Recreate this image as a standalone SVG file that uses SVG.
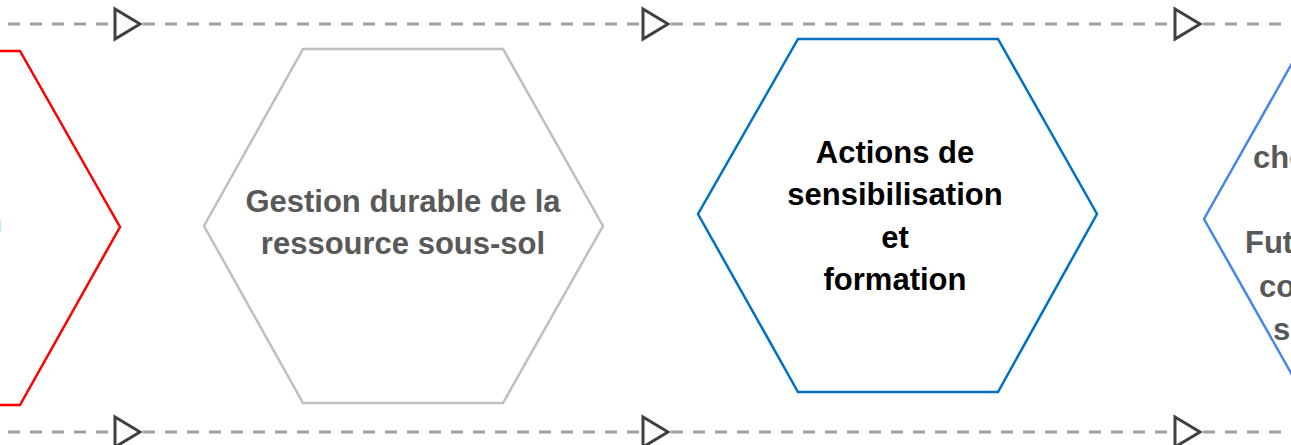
<svg xmlns="http://www.w3.org/2000/svg" width="1291" height="445" viewBox="0 0 1291 445">
<style>
.hex{fill:#fff;stroke-width:2.5;stroke-linejoin:miter}
.lbl{font-family:"Liberation Sans",Arial,sans-serif;font-weight:bold;font-size:31px;text-anchor:middle}
.gray{fill:#595959}
.blk{fill:#000}
.edge{fill:none;stroke:#A0A0A0;stroke-width:3;stroke-dasharray:12 10}
</style>
<defs>
<marker id="tri" markerUnits="userSpaceOnUse" markerWidth="30" markerHeight="34" refX="26" refY="16" orient="auto" overflow="visible">
<path d="M1,1 L26,16 L1,31 Z" fill="#fff" stroke="#404040" stroke-width="3" stroke-dasharray="none" stroke-linejoin="miter"/>
</marker>
</defs>
<rect width="1291" height="445" fill="#fff"/>
<g id="connectors">
<path class="edge" d="M8,24 L140,24" marker-end="url(#tri)"/>
<path class="edge" d="M143,24 L668,24" marker-end="url(#tri)"/>
<path class="edge" d="M671,24 L1200,24" marker-end="url(#tri)"/>
<path class="edge" d="M1203,24 L1291,24"/>
<path class="edge" d="M8,432 L140,432" marker-end="url(#tri)"/>
<path class="edge" d="M143,432 L668,432" marker-end="url(#tri)"/>
<path class="edge" d="M671,432 L1200,432" marker-end="url(#tri)"/>
<path class="edge" d="M1203,432 L1291,432"/>
</g>
<g id="node-red">
<polygon class="hex" stroke="#FF0000" points="-80,51 20,51 120,227 20,405 -80,405 -180,227"/>
<text class="lbl gray" x="2" y="232" style="text-anchor:end">n</text>
</g>
<g id="node-gestion">
<polygon class="hex" stroke="#BFBFBF" points="303,49 503,49 603,226 503,403 303,403 204,226"/>
<text class="lbl gray" x="403" y="212">Gestion durable de la</text>
<text class="lbl gray" x="403" y="254">ressource sous-sol</text>
</g>
<g id="node-actions">
<polygon class="hex" stroke="#0070C0" points="798,39 998,39 1097,214 998,392 798,392 698,214"/>
<text class="lbl blk" x="895" y="163">Actions de</text>
<text class="lbl blk" x="895" y="205">sensibilisation</text>
<text class="lbl blk" x="895" y="248">et</text>
<text class="lbl blk" x="895" y="290">formation</text>
</g>
<g id="node-right">
<polygon class="hex" stroke="#4A86E8" points="1304,42 1504,42 1604,219 1504,396 1304,396 1204,219"/>
<text class="lbl gray" x="1253" y="168" style="text-anchor:start">che</text>
<text class="lbl gray" x="1245" y="253" style="text-anchor:start">Fut</text>
<text class="lbl gray" x="1259" y="297" style="text-anchor:start">co</text>
<text class="lbl gray" x="1273" y="340" style="text-anchor:start">s</text>
</g>
</svg>
